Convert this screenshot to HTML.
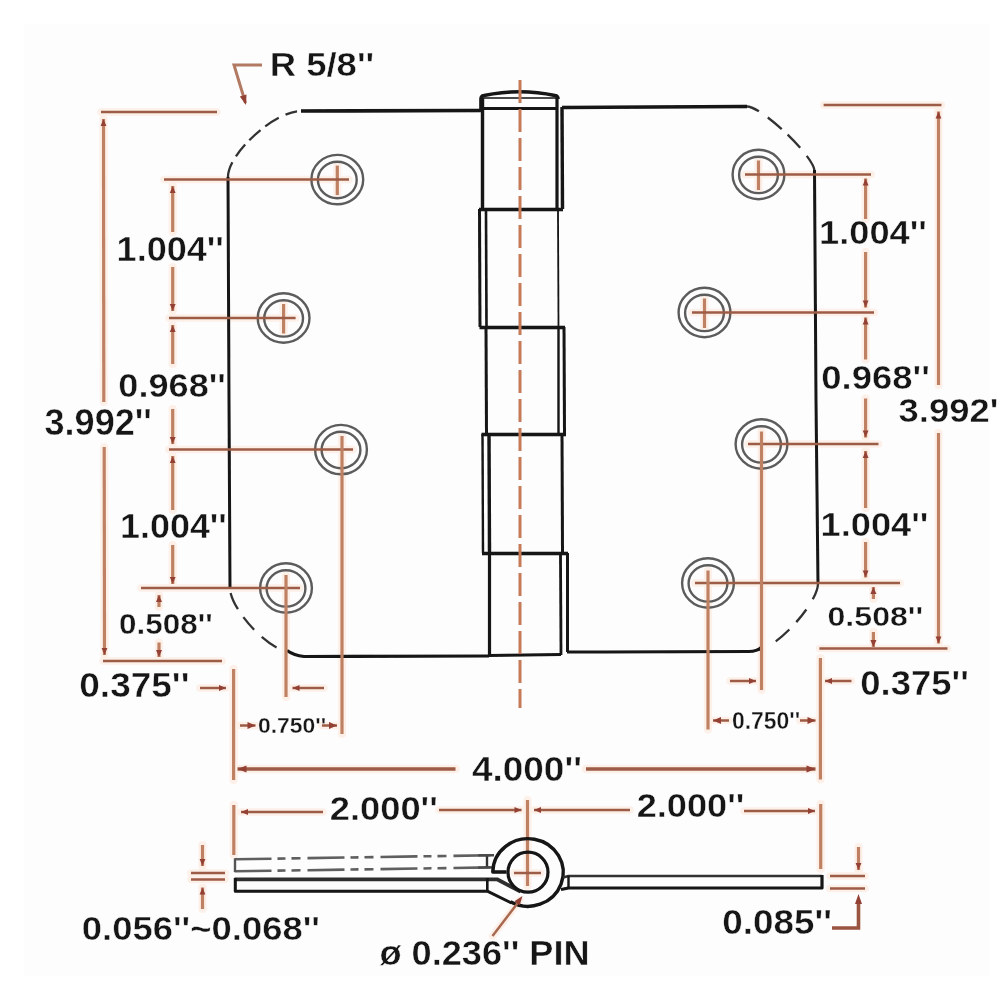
<!DOCTYPE html>
<html><head><meta charset="utf-8"><title>Hinge dimensions</title>
<style>
html,body{margin:0;padding:0;background:#fff;}
body{width:1000px;height:1000px;overflow:hidden;font-family:"Liberation Sans",sans-serif;}
svg{display:block;font-family:"Liberation Sans",sans-serif;}
</style></head><body>
<svg width="1000" height="1000" viewBox="0 0 1000 1000">
<rect width="1000" height="1000" fill="#ffffff"/>
<rect x="24" y="24" width="966" height="952" fill="#fdfdfd"/>
<defs><filter id="soft" x="-2%" y="-2%" width="104%" height="104%"><feGaussianBlur stdDeviation="0.55"/></filter></defs>
<g filter="url(#soft)">
<line x1="337.3" y1="165.6" x2="337.3" y2="195.1" stroke="#fdf0e9" stroke-width="8.2" stroke-linecap="round"/>
<line x1="283.6" y1="304" x2="283.6" y2="333.5" stroke="#fdf0e9" stroke-width="8.2" stroke-linecap="round"/>
<line x1="758.5" y1="160.5" x2="758.5" y2="190.0" stroke="#fdf0e9" stroke-width="8.2" stroke-linecap="round"/>
<line x1="704.5" y1="298.5" x2="704.5" y2="328.0" stroke="#fdf0e9" stroke-width="8.2" stroke-linecap="round"/>
<line x1="164" y1="179.5" x2="349" y2="179.5" stroke="#fdf0e9" stroke-width="7.5" stroke-linecap="round"/>
<line x1="169" y1="318" x2="295.6" y2="318" stroke="#fdf0e9" stroke-width="7.5" stroke-linecap="round"/>
<line x1="169" y1="449.5" x2="353" y2="449.5" stroke="#fdf0e9" stroke-width="7.5" stroke-linecap="round"/>
<line x1="141" y1="588" x2="300" y2="588" stroke="#fdf0e9" stroke-width="7.5" stroke-linecap="round"/>
<line x1="745" y1="174.5" x2="871" y2="174.5" stroke="#fdf0e9" stroke-width="7.5" stroke-linecap="round"/>
<line x1="692" y1="312.5" x2="874" y2="312.5" stroke="#fdf0e9" stroke-width="7.5" stroke-linecap="round"/>
<line x1="748" y1="444" x2="878.5" y2="444" stroke="#fdf0e9" stroke-width="7.5" stroke-linecap="round"/>
<line x1="695" y1="583" x2="900" y2="583" stroke="#fdf0e9" stroke-width="7.5" stroke-linecap="round"/>
<line x1="342" y1="436" x2="342" y2="734" stroke="#fdf0e9" stroke-width="8.2" stroke-linecap="round"/>
<line x1="286" y1="575" x2="286" y2="697" stroke="#fdf0e9" stroke-width="8.2" stroke-linecap="round"/>
<line x1="761.5" y1="431.5" x2="761.5" y2="690" stroke="#fdf0e9" stroke-width="8.2" stroke-linecap="round"/>
<line x1="708" y1="570.5" x2="708" y2="729.5" stroke="#fdf0e9" stroke-width="8.2" stroke-linecap="round"/>
<line x1="101" y1="112" x2="217" y2="112" stroke="#fdf0e9" stroke-width="7.5" stroke-linecap="round"/>
<line x1="103" y1="661" x2="222" y2="661" stroke="#fdf0e9" stroke-width="7.5" stroke-linecap="round"/>
<line x1="103.5" y1="119" x2="103.8" y2="402" stroke="#fdf0e9" stroke-width="8.2" stroke-linecap="round"/>
<line x1="104.5" y1="655" x2="104.2" y2="447" stroke="#fdf0e9" stroke-width="8.2" stroke-linecap="round"/>
<line x1="172.7" y1="186" x2="172.7" y2="232" stroke="#fdf0e9" stroke-width="8.2" stroke-linecap="round"/>
<line x1="172.7" y1="311" x2="172.7" y2="267" stroke="#fdf0e9" stroke-width="8.2" stroke-linecap="round"/>
<line x1="172.7" y1="325" x2="172.7" y2="364" stroke="#fdf0e9" stroke-width="8.2" stroke-linecap="round"/>
<line x1="172.7" y1="444" x2="172.7" y2="409" stroke="#fdf0e9" stroke-width="8.2" stroke-linecap="round"/>
<line x1="172.7" y1="456" x2="172.7" y2="510" stroke="#fdf0e9" stroke-width="8.2" stroke-linecap="round"/>
<line x1="172.7" y1="584" x2="172.7" y2="545" stroke="#fdf0e9" stroke-width="8.2" stroke-linecap="round"/>
<line x1="159" y1="595" x2="159" y2="607" stroke="#fdf0e9" stroke-width="8.2" stroke-linecap="round"/>
<line x1="159" y1="657" x2="159" y2="642.5" stroke="#fdf0e9" stroke-width="8.2" stroke-linecap="round"/>
<line x1="226" y1="688" x2="200" y2="688" stroke="#fdf0e9" stroke-width="7.5" stroke-linecap="round"/>
<line x1="233.6" y1="669" x2="233.6" y2="780" stroke="#fdf0e9" stroke-width="8.2" stroke-linecap="round"/>
<line x1="292.5" y1="688" x2="324" y2="688" stroke="#fdf0e9" stroke-width="7.5" stroke-linecap="round"/>
<line x1="255.5" y1="725.5" x2="240" y2="725.5" stroke="#fdf0e9" stroke-width="7.5" stroke-linecap="round"/>
<line x1="337" y1="725.5" x2="322" y2="725.5" stroke="#fdf0e9" stroke-width="7.5" stroke-linecap="round"/>
<line x1="237.5" y1="769" x2="455.5" y2="769" stroke="#fdf0e9" stroke-width="8.6" stroke-linecap="round"/>
<line x1="815.5" y1="769" x2="586" y2="769" stroke="#fdf0e9" stroke-width="8.6" stroke-linecap="round"/>
<line x1="820.4" y1="658" x2="820.4" y2="779.5" stroke="#fdf0e9" stroke-width="8.2" stroke-linecap="round"/>
<line x1="756" y1="681" x2="730" y2="681" stroke="#fdf0e9" stroke-width="7.5" stroke-linecap="round"/>
<line x1="825" y1="681" x2="851.5" y2="681" stroke="#fdf0e9" stroke-width="7.5" stroke-linecap="round"/>
<line x1="713" y1="720.5" x2="729" y2="720.5" stroke="#fdf0e9" stroke-width="7.5" stroke-linecap="round"/>
<line x1="815.5" y1="720.5" x2="800" y2="720.5" stroke="#fdf0e9" stroke-width="7.5" stroke-linecap="round"/>
<line x1="823.6" y1="105" x2="941.5" y2="105" stroke="#fdf0e9" stroke-width="7.5" stroke-linecap="round"/>
<line x1="819.4" y1="648.5" x2="947.5" y2="648.5" stroke="#fdf0e9" stroke-width="7.5" stroke-linecap="round"/>
<line x1="938.5" y1="111.6" x2="938.5" y2="385" stroke="#fdf0e9" stroke-width="8.2" stroke-linecap="round"/>
<line x1="938.5" y1="643.4" x2="938.5" y2="433" stroke="#fdf0e9" stroke-width="8.2" stroke-linecap="round"/>
<line x1="865.6" y1="178.5" x2="865.6" y2="219" stroke="#fdf0e9" stroke-width="8.2" stroke-linecap="round"/>
<line x1="865.6" y1="307.5" x2="865.6" y2="252" stroke="#fdf0e9" stroke-width="8.2" stroke-linecap="round"/>
<line x1="865.6" y1="317.5" x2="865.6" y2="359.5" stroke="#fdf0e9" stroke-width="8.2" stroke-linecap="round"/>
<line x1="865.6" y1="437.5" x2="865.6" y2="398.5" stroke="#fdf0e9" stroke-width="8.2" stroke-linecap="round"/>
<line x1="865.6" y1="451" x2="865.6" y2="508" stroke="#fdf0e9" stroke-width="8.2" stroke-linecap="round"/>
<line x1="865.6" y1="577.4" x2="865.6" y2="542" stroke="#fdf0e9" stroke-width="8.2" stroke-linecap="round"/>
<line x1="873.4" y1="587" x2="873.4" y2="599" stroke="#fdf0e9" stroke-width="8.2" stroke-linecap="round"/>
<line x1="873.4" y1="647" x2="873.4" y2="632" stroke="#fdf0e9" stroke-width="8.2" stroke-linecap="round"/>
<line x1="233.8" y1="805" x2="233.8" y2="855" stroke="#fdf0e9" stroke-width="8.2" stroke-linecap="round"/>
<line x1="241" y1="812" x2="323" y2="812" stroke="#fdf0e9" stroke-width="7.5" stroke-linecap="round"/>
<line x1="521.5" y1="810" x2="439" y2="810" stroke="#fdf0e9" stroke-width="7.5" stroke-linecap="round"/>
<line x1="534" y1="810" x2="630" y2="810" stroke="#fdf0e9" stroke-width="7.5" stroke-linecap="round"/>
<line x1="815" y1="811" x2="744" y2="811" stroke="#fdf0e9" stroke-width="7.5" stroke-linecap="round"/>
<line x1="820.7" y1="804" x2="820.7" y2="869" stroke="#fdf0e9" stroke-width="8.2" stroke-linecap="round"/>
<line x1="527.5" y1="800" x2="527.5" y2="886" stroke="#fdf0e9" stroke-width="8.2" stroke-linecap="round"/>
<line x1="514" y1="873" x2="541" y2="873" stroke="#fdf0e9" stroke-width="7.5" stroke-linecap="round"/>
<line x1="191" y1="873" x2="225" y2="873" stroke="#fdf0e9" stroke-width="7.5" stroke-linecap="round"/>
<line x1="191" y1="879.5" x2="225" y2="879.5" stroke="#fdf0e9" stroke-width="7.5" stroke-linecap="round"/>
<line x1="202.5" y1="866" x2="202.5" y2="845" stroke="#fdf0e9" stroke-width="8.2" stroke-linecap="round"/>
<line x1="202.5" y1="887.5" x2="202.5" y2="909" stroke="#fdf0e9" stroke-width="8.2" stroke-linecap="round"/>
<line x1="830" y1="876" x2="865" y2="876" stroke="#fdf0e9" stroke-width="7.5" stroke-linecap="round"/>
<line x1="830" y1="888.5" x2="865" y2="888.5" stroke="#fdf0e9" stroke-width="7.5" stroke-linecap="round"/>
<line x1="858.5" y1="870" x2="858.5" y2="847" stroke="#fdf0e9" stroke-width="8.2" stroke-linecap="round"/>
<line x1="492.5" y1="936" x2="520" y2="900" stroke="#fdf0e9" stroke-width="7.5" stroke-linecap="round"/>
<path d="M301,111 L481,110.5" fill="none" stroke="#141414" stroke-width="3.6" />
<path d="M228,177 L229,400 L230,588" fill="none" stroke="#141414" stroke-width="3" />
<path d="M301,111 C274.7,111.0 228.0,153.2 228,177" fill="none" stroke="#333" stroke-width="2.3" stroke-dasharray="0 4 12 7.5 16 6 15 6 15 7 20"/>
<path d="M230,588 C230.0,608.8 268.9,651.0 288,651" fill="none" stroke="#333" stroke-width="2.3" stroke-dasharray="0 5 18 9.5 16.5 10.5 18 30"/>
<path d="M287,650.5 Q294,655.5 304,656.5 L489,656" fill="none" stroke="#141414" stroke-width="3.2" />
<path d="M562,107.5 L747,106.5" fill="none" stroke="#141414" stroke-width="3.4" />
<path d="M747,106.5 C761.9,106.5 814.5,156.8 814.5,171" fill="none" stroke="#333" stroke-width="2.3" stroke-dasharray="13 11 18 8 18 10.5 30"/>
<path d="M814.5,170 L816,400 L818,584" fill="none" stroke="#141414" stroke-width="3" />
<path d="M818,583.5 C818.0,603.5 775.3,650.0 757,650" fill="none" stroke="#333" stroke-width="2.3" stroke-dasharray="17 12 16 10 18 15 30"/>
<path d="M761.5,647 Q757,651.5 749,651.5 L567,652" fill="none" stroke="#141414" stroke-width="3" />
<path d="M481,110 L481,99 Q481,96 484,95.5 Q520,88 555,95.5 Q558,96 558,99" fill="none" stroke="#141414" stroke-width="3.6" />
<path d="M483,98 L557,98" fill="none" stroke="#141414" stroke-width="1.6" />
<path d="M482,108.5 L558,108.5" fill="none" stroke="#141414" stroke-width="3" />
<path d="M482.5,98 L482.5,209" fill="none" stroke="#141414" stroke-width="3.4" />
<path d="M557,98 L557,209" fill="none" stroke="#141414" stroke-width="3.2" />
<path d="M562,107 L562.5,209" fill="none" stroke="#141414" stroke-width="3.4" />
<path d="M479,209.5 L563,209.5" fill="none" stroke="#141414" stroke-width="3.4" />
<path d="M479.5,209 L480,327" fill="none" stroke="#141414" stroke-width="3" />
<path d="M486,209 L486.5,327" fill="none" stroke="#141414" stroke-width="2.6" />
<path d="M558,209 L558.5,327" fill="none" stroke="#141414" stroke-width="1.8" />
<path d="M479.5,327.5 L565,327.5" fill="none" stroke="#141414" stroke-width="3.4" />
<path d="M486,327 L486.5,434" fill="none" stroke="#141414" stroke-width="3" />
<path d="M558.5,327 L558.5,434" fill="none" stroke="#141414" stroke-width="2.4" />
<path d="M564,327 L564.5,434" fill="none" stroke="#141414" stroke-width="3" />
<path d="M481.5,434.5 L566,434.5" fill="none" stroke="#141414" stroke-width="3.4" />
<path d="M482.5,434 L483,553" fill="none" stroke="#141414" stroke-width="2.4" />
<path d="M489,434 L489.5,553" fill="none" stroke="#141414" stroke-width="3.4" />
<path d="M562,434 L562.5,553" fill="none" stroke="#141414" stroke-width="3" />
<path d="M482,553.5 L568,553.5" fill="none" stroke="#141414" stroke-width="3.4" />
<path d="M489.5,553 L489.5,656" fill="none" stroke="#141414" stroke-width="3.2" />
<path d="M560.5,553 L561,655" fill="none" stroke="#141414" stroke-width="2.8" />
<path d="M567.5,553 L567.5,652" fill="none" stroke="#141414" stroke-width="3" />
<path d="M489,655.5 L561,654.5" fill="none" stroke="#141414" stroke-width="3.2" />
<ellipse cx="337.3" cy="179.6" rx="25.9" ry="24.7" fill="none" stroke="#5c5c5c" stroke-width="2.4"/>
<ellipse cx="337.3" cy="180.0" rx="19.4" ry="18.2" fill="none" stroke="#5c5c5c" stroke-width="2.4"/>
<ellipse cx="283.6" cy="318" rx="25.9" ry="24.7" fill="none" stroke="#5c5c5c" stroke-width="2.4"/>
<ellipse cx="283.6" cy="318.4" rx="19.4" ry="18.2" fill="none" stroke="#5c5c5c" stroke-width="2.4"/>
<ellipse cx="341" cy="449.6" rx="25.9" ry="24.7" fill="none" stroke="#5c5c5c" stroke-width="2.4"/>
<ellipse cx="341" cy="450.0" rx="19.4" ry="18.2" fill="none" stroke="#5c5c5c" stroke-width="2.4"/>
<ellipse cx="286" cy="588" rx="25.9" ry="24.7" fill="none" stroke="#5c5c5c" stroke-width="2.4"/>
<ellipse cx="286" cy="588.4" rx="19.4" ry="18.2" fill="none" stroke="#5c5c5c" stroke-width="2.4"/>
<ellipse cx="758.5" cy="174.5" rx="25.9" ry="24.7" fill="none" stroke="#5c5c5c" stroke-width="2.4"/>
<ellipse cx="758.5" cy="174.9" rx="19.4" ry="18.2" fill="none" stroke="#5c5c5c" stroke-width="2.4"/>
<ellipse cx="704.5" cy="312.5" rx="25.9" ry="24.7" fill="none" stroke="#5c5c5c" stroke-width="2.4"/>
<ellipse cx="704.5" cy="312.9" rx="19.4" ry="18.2" fill="none" stroke="#5c5c5c" stroke-width="2.4"/>
<ellipse cx="761.5" cy="444" rx="25.9" ry="24.7" fill="none" stroke="#5c5c5c" stroke-width="2.4"/>
<ellipse cx="761.5" cy="444.4" rx="19.4" ry="18.2" fill="none" stroke="#5c5c5c" stroke-width="2.4"/>
<ellipse cx="708" cy="583" rx="25.9" ry="24.7" fill="none" stroke="#5c5c5c" stroke-width="2.4"/>
<ellipse cx="708" cy="583.4" rx="19.4" ry="18.2" fill="none" stroke="#5c5c5c" stroke-width="2.4"/>
<line x1="520" y1="80" x2="520" y2="708" stroke="#c67a58" stroke-width="3" stroke-dasharray="23 6"/>
<line x1="337.3" y1="165.6" x2="337.3" y2="195.1" stroke="#bf8163" stroke-width="3.2" />
<line x1="283.6" y1="304" x2="283.6" y2="333.5" stroke="#bf8163" stroke-width="3.2" />
<line x1="758.5" y1="160.5" x2="758.5" y2="190.0" stroke="#bf8163" stroke-width="3.2" />
<line x1="704.5" y1="298.5" x2="704.5" y2="328.0" stroke="#bf8163" stroke-width="3.2" />
<line x1="164" y1="179.5" x2="349" y2="179.5" stroke="#9c5c44" stroke-width="2.5" />
<line x1="169" y1="318" x2="295.6" y2="318" stroke="#9c5c44" stroke-width="2.5" />
<line x1="169" y1="449.5" x2="353" y2="449.5" stroke="#9c5c44" stroke-width="2.5" />
<line x1="141" y1="588" x2="300" y2="588" stroke="#9c5c44" stroke-width="2.5" />
<line x1="745" y1="174.5" x2="871" y2="174.5" stroke="#9c5c44" stroke-width="2.5" />
<line x1="692" y1="312.5" x2="874" y2="312.5" stroke="#9c5c44" stroke-width="2.5" />
<line x1="748" y1="444" x2="878.5" y2="444" stroke="#9c5c44" stroke-width="2.5" />
<line x1="695" y1="583" x2="900" y2="583" stroke="#9c5c44" stroke-width="2.5" />
<line x1="342" y1="436" x2="342" y2="734" stroke="#bf8163" stroke-width="3.2" />
<line x1="286" y1="575" x2="286" y2="697" stroke="#bf8163" stroke-width="3.2" />
<line x1="761.5" y1="431.5" x2="761.5" y2="690" stroke="#bf8163" stroke-width="3.2" />
<line x1="708" y1="570.5" x2="708" y2="729.5" stroke="#bf8163" stroke-width="3.2" />
<line x1="101" y1="112" x2="217" y2="112" stroke="#9c5c44" stroke-width="2.5" />
<line x1="103" y1="661" x2="222" y2="661" stroke="#9c5c44" stroke-width="2.5" />
<line x1="103.5" y1="119" x2="103.8" y2="402" stroke="#bf8163" stroke-width="3.2" />
<polygon points="103.5,119.0 106.4,126.0 100.6,126.0" fill="#934034"/>
<line x1="104.5" y1="655" x2="104.2" y2="447" stroke="#bf8163" stroke-width="3.2" />
<polygon points="104.5,655.0 101.6,648.0 107.4,648.0" fill="#934034"/>
<line x1="172.7" y1="186" x2="172.7" y2="232" stroke="#bf8163" stroke-width="3.2" />
<polygon points="172.7,186.0 175.6,193.0 169.8,193.0" fill="#934034"/>
<line x1="172.7" y1="311" x2="172.7" y2="267" stroke="#bf8163" stroke-width="3.2" />
<polygon points="172.7,311.0 169.8,304.0 175.6,304.0" fill="#934034"/>
<line x1="172.7" y1="325" x2="172.7" y2="364" stroke="#bf8163" stroke-width="3.2" />
<polygon points="172.7,325.0 175.6,332.0 169.8,332.0" fill="#934034"/>
<line x1="172.7" y1="444" x2="172.7" y2="409" stroke="#bf8163" stroke-width="3.2" />
<polygon points="172.7,444.0 169.8,437.0 175.6,437.0" fill="#934034"/>
<line x1="172.7" y1="456" x2="172.7" y2="510" stroke="#bf8163" stroke-width="3.2" />
<polygon points="172.7,456.0 175.6,463.0 169.8,463.0" fill="#934034"/>
<line x1="172.7" y1="584" x2="172.7" y2="545" stroke="#bf8163" stroke-width="3.2" />
<polygon points="172.7,584.0 169.8,577.0 175.6,577.0" fill="#934034"/>
<line x1="159" y1="595" x2="159" y2="607" stroke="#bf8163" stroke-width="3.2" />
<polygon points="159.0,595.0 162.0,602.0 156.0,602.0" fill="#934034"/>
<line x1="159" y1="657" x2="159" y2="642.5" stroke="#bf8163" stroke-width="3.2" />
<polygon points="159.0,657.0 156.0,650.0 162.0,650.0" fill="#934034"/>
<line x1="226" y1="688" x2="200" y2="688" stroke="#9c5c44" stroke-width="2.5" />
<polygon points="226.0,688.0 219.0,690.9 219.0,685.1" fill="#934034"/>
<line x1="233.6" y1="669" x2="233.6" y2="780" stroke="#bf8163" stroke-width="3.2" />
<line x1="292.5" y1="688" x2="324" y2="688" stroke="#9c5c44" stroke-width="2.5" />
<polygon points="292.5,688.0 299.5,685.1 299.5,690.9" fill="#934034"/>
<line x1="255.5" y1="725.5" x2="240" y2="725.5" stroke="#9c5c44" stroke-width="2.5" />
<polygon points="255.5,725.5 247.5,729.0 247.5,722.0" fill="#934034"/>
<line x1="337" y1="725.5" x2="322" y2="725.5" stroke="#9c5c44" stroke-width="2.5" />
<polygon points="337.0,725.5 329.0,729.0 329.0,722.0" fill="#934034"/>
<line x1="237.5" y1="769" x2="455.5" y2="769" stroke="#9c5c44" stroke-width="3.6" />
<polygon points="237.5,769.0 246.5,765.5 246.5,772.5" fill="#934034"/>
<line x1="815.5" y1="769" x2="586" y2="769" stroke="#9c5c44" stroke-width="3.6" />
<polygon points="815.5,769.0 806.5,772.5 806.5,765.5" fill="#934034"/>
<line x1="820.4" y1="658" x2="820.4" y2="779.5" stroke="#bf8163" stroke-width="3.2" />
<line x1="756" y1="681" x2="730" y2="681" stroke="#9c5c44" stroke-width="2.5" />
<polygon points="756.0,681.0 749.0,683.9 749.0,678.1" fill="#934034"/>
<line x1="825" y1="681" x2="851.5" y2="681" stroke="#9c5c44" stroke-width="2.5" />
<polygon points="825.0,681.0 832.0,678.1 832.0,683.9" fill="#934034"/>
<line x1="713" y1="720.5" x2="729" y2="720.5" stroke="#9c5c44" stroke-width="2.5" />
<polygon points="713.0,720.5 721.0,717.0 721.0,724.0" fill="#934034"/>
<line x1="815.5" y1="720.5" x2="800" y2="720.5" stroke="#9c5c44" stroke-width="2.5" />
<polygon points="815.5,720.5 807.5,724.0 807.5,717.0" fill="#934034"/>
<line x1="823.6" y1="105" x2="941.5" y2="105" stroke="#9c5c44" stroke-width="2.5" />
<line x1="819.4" y1="648.5" x2="947.5" y2="648.5" stroke="#9c5c44" stroke-width="2.5" />
<line x1="938.5" y1="111.6" x2="938.5" y2="385" stroke="#bf8163" stroke-width="3.2" />
<polygon points="938.5,111.6 941.4,118.6 935.6,118.6" fill="#934034"/>
<line x1="938.5" y1="643.4" x2="938.5" y2="433" stroke="#bf8163" stroke-width="3.2" />
<polygon points="938.5,643.4 935.6,636.4 941.4,636.4" fill="#934034"/>
<line x1="865.6" y1="178.5" x2="865.6" y2="219" stroke="#bf8163" stroke-width="3.2" />
<polygon points="865.6,178.5 868.5,185.5 862.7,185.5" fill="#934034"/>
<line x1="865.6" y1="307.5" x2="865.6" y2="252" stroke="#bf8163" stroke-width="3.2" />
<polygon points="865.6,307.5 862.7,300.5 868.5,300.5" fill="#934034"/>
<line x1="865.6" y1="317.5" x2="865.6" y2="359.5" stroke="#bf8163" stroke-width="3.2" />
<polygon points="865.6,317.5 868.5,324.5 862.7,324.5" fill="#934034"/>
<line x1="865.6" y1="437.5" x2="865.6" y2="398.5" stroke="#bf8163" stroke-width="3.2" />
<polygon points="865.6,437.5 862.7,430.5 868.5,430.5" fill="#934034"/>
<line x1="865.6" y1="451" x2="865.6" y2="508" stroke="#bf8163" stroke-width="3.2" />
<polygon points="865.6,451.0 868.5,458.0 862.7,458.0" fill="#934034"/>
<line x1="865.6" y1="577.4" x2="865.6" y2="542" stroke="#bf8163" stroke-width="3.2" />
<polygon points="865.6,577.4 862.7,570.4 868.5,570.4" fill="#934034"/>
<line x1="873.4" y1="587" x2="873.4" y2="599" stroke="#bf8163" stroke-width="3.2" />
<polygon points="873.4,587.0 876.4,594.0 870.4,594.0" fill="#934034"/>
<line x1="873.4" y1="647" x2="873.4" y2="632" stroke="#bf8163" stroke-width="3.2" />
<polygon points="873.4,647.0 870.4,640.0 876.4,640.0" fill="#934034"/>
<path d="M262,65 L234,65 L245.5,103" fill="none" stroke="#b27a64" stroke-width="3" />
<polygon points="246.0,105.0 239.8,96.4 246.5,94.4" fill="#934034"/>
<line x1="233.8" y1="805" x2="233.8" y2="855" stroke="#bf8163" stroke-width="3.2" />
<line x1="241" y1="812" x2="323" y2="812" stroke="#9c5c44" stroke-width="2.5" />
<polygon points="241.0,812.0 248.0,809.1 248.0,814.9" fill="#934034"/>
<line x1="521.5" y1="810" x2="439" y2="810" stroke="#9c5c44" stroke-width="2.5" />
<polygon points="521.5,810.0 514.5,812.9 514.5,807.1" fill="#934034"/>
<line x1="534" y1="810" x2="630" y2="810" stroke="#9c5c44" stroke-width="2.5" />
<polygon points="534.0,810.0 541.0,807.1 541.0,812.9" fill="#934034"/>
<line x1="815" y1="811" x2="744" y2="811" stroke="#9c5c44" stroke-width="2.5" />
<polygon points="815.0,811.0 808.0,813.9 808.0,808.1" fill="#934034"/>
<line x1="820.7" y1="804" x2="820.7" y2="869" stroke="#bf8163" stroke-width="3.2" />
<line x1="527.5" y1="800" x2="527.5" y2="886" stroke="#bf8163" stroke-width="3.2" />
<line x1="514" y1="873" x2="541" y2="873" stroke="#9c5c44" stroke-width="2.5" />
<path d="M234.5,859.3 L493,855.2" fill="none" stroke="#5e5e5e" stroke-width="2.6" stroke-dasharray="37 6 8 6 9 7"/>
<path d="M234.5,871.3 L492,867.4" fill="none" stroke="#5e5e5e" stroke-width="2.6" stroke-dasharray="37 6 8 6 9 7"/>
<path d="M235,858.5 L235,872" fill="none" stroke="#555" stroke-width="2.4" />
<path d="M487,855 L487,868" fill="none" stroke="#333" stroke-width="2.4" />
<path d="M478,855.4 L494,855.2" fill="none" stroke="#4a4a4a" stroke-width="2.4" />
<path d="M478,867.6 L492.5,867.4" fill="none" stroke="#4a4a4a" stroke-width="2.4" />
<path d="M234.5,879.3 L497,879.3 L520.5,891.6" fill="none" stroke="#2e2e2e" stroke-width="3.8" stroke-linejoin="round"/>
<path d="M235.3,878 L235.3,891.2 L487.3,891.2 L511.5,903" fill="none" stroke="#141414" stroke-width="3" stroke-linejoin="round"/>
<path d="M487.3,878 L487.3,891" fill="none" stroke="#141414" stroke-width="2.6" />
<path d="M506.5,872 L492.8,872 A35.2,33.8 0 1 1 510.5,901.8" fill="none" stroke="#141414" stroke-width="3.4" stroke-linejoin="round"/>
<circle cx="528" cy="872.2" r="20" fill="none" stroke="#141414" stroke-width="3.2"/>
<path d="M563,877.5 L568.5,876 L822,876" fill="none" stroke="#303030" stroke-width="2.4" stroke-linejoin="round"/>
<path d="M822,875 L822,888 L568.5,888 L561,889.5" fill="none" stroke="#141414" stroke-width="3.2" stroke-linejoin="round"/>
<path d="M568.5,876 L568.5,888" fill="none" stroke="#141414" stroke-width="2.4" />
<line x1="191" y1="873" x2="225" y2="873" stroke="#9c5c44" stroke-width="2.5" />
<line x1="191" y1="879.5" x2="225" y2="879.5" stroke="#9c5c44" stroke-width="2.5" />
<line x1="202.5" y1="866" x2="202.5" y2="845" stroke="#bf8163" stroke-width="3.2" />
<polygon points="202.5,866.0 199.6,859.0 205.4,859.0" fill="#934034"/>
<line x1="202.5" y1="887.5" x2="202.5" y2="909" stroke="#bf8163" stroke-width="3.2" />
<polygon points="202.5,887.5 205.4,894.5 199.6,894.5" fill="#934034"/>
<line x1="830" y1="876" x2="865" y2="876" stroke="#9c5c44" stroke-width="2.5" />
<line x1="830" y1="888.5" x2="865" y2="888.5" stroke="#9c5c44" stroke-width="2.5" />
<line x1="858.5" y1="870" x2="858.5" y2="847" stroke="#bf8163" stroke-width="3.2" />
<polygon points="858.5,870.0 855.6,863.0 861.4,863.0" fill="#934034"/>
<path d="M858.5,900 L858.5,928 L832,928" fill="none" stroke="#9a5540" stroke-width="3.6" />
<polygon points="858.5,894.0 862.0,904.0 855.0,904.0" fill="#934034"/>
<line x1="492.5" y1="936" x2="520" y2="900" stroke="#a8694f" stroke-width="2.5" />
<polygon points="522.5,896.0 519.7,905.2 514.5,901.2" fill="#934034"/>
<text transform="translate(269.72,76.22) scale(0.3648,0.3350)" font-size="100" font-weight="bold" fill="#151515" stroke="#fdfdfd" stroke-width="1.29">R 5/8''</text>
<text transform="translate(116.61,261.23) scale(0.3605,0.3564)" font-size="100" font-weight="bold" fill="#151515" stroke="#fdfdfd" stroke-width="1.26">1.004''</text>
<text transform="translate(118.33,397.23) scale(0.3614,0.3350)" font-size="100" font-weight="bold" fill="#151515" stroke="#fdfdfd" stroke-width="1.29">0.968''</text>
<text transform="translate(44.55,435.23) scale(0.3607,0.3636)" font-size="100" font-weight="bold" fill="#151515" stroke="#fdfdfd" stroke-width="1.24">3.992''</text>
<text transform="translate(120.12,537.73) scale(0.3587,0.3421)" font-size="100" font-weight="bold" fill="#151515" stroke="#fdfdfd" stroke-width="1.28">1.004''</text>
<text transform="translate(119.04,634.20) scale(0.3145,0.2861)" font-size="100" font-weight="bold" fill="#151515" stroke="#fdfdfd" stroke-width="1.34">0.508''</text>
<text transform="translate(79.29,697.23) scale(0.3701,0.3421)" font-size="100" font-weight="bold" fill="#151515" stroke="#fdfdfd" stroke-width="1.26">0.375''</text>
<text transform="translate(257.93,733.15) scale(0.2294,0.2205)" font-size="100" font-weight="bold" fill="#151515" stroke="#fdfdfd" stroke-width="1.38">0.750''</text>
<text transform="translate(472.04,780.73) scale(0.3692,0.3493)" font-size="100" font-weight="bold" fill="#151515" stroke="#fdfdfd" stroke-width="1.25">4.000''</text>
<text transform="translate(329.68,820.23) scale(0.3636,0.3350)" font-size="100" font-weight="bold" fill="#151515" stroke="#fdfdfd" stroke-width="1.29">2.000''</text>
<text transform="translate(636.69,817.23) scale(0.3619,0.3350)" font-size="100" font-weight="bold" fill="#151515" stroke="#fdfdfd" stroke-width="1.29">2.000''</text>
<text transform="translate(81.82,939.62) scale(0.3643,0.3334)" font-size="100" font-weight="bold" fill="#151515" stroke="#fdfdfd" stroke-width="1.29">0.056''~0.068''</text>
<text transform="translate(379.41,965.23) scale(0.3620,0.3421)" font-size="100" font-weight="bold" fill="#151515" stroke="#fdfdfd" stroke-width="1.28">ø 0.236'' PIN</text>
<text transform="translate(722.30,934.23) scale(0.3683,0.3493)" font-size="100" font-weight="bold" fill="#151515" stroke="#fdfdfd" stroke-width="1.25">0.085''</text>
<text transform="translate(819.10,243.82) scale(0.3622,0.3286)" font-size="100" font-weight="bold" fill="#151515" stroke="#fdfdfd" stroke-width="1.30">1.004''</text>
<text transform="translate(821.32,388.83) scale(0.3649,0.3286)" font-size="100" font-weight="bold" fill="#151515" stroke="#fdfdfd" stroke-width="1.30">0.968''</text>
<text transform="translate(898.55,421.83) scale(0.3641,0.3286)" font-size="100" font-weight="bold" fill="#151515" stroke="#fdfdfd" stroke-width="1.30">3.992''</text>
<text transform="translate(820.60,535.62) scale(0.3622,0.3334)" font-size="100" font-weight="bold" fill="#151515" stroke="#fdfdfd" stroke-width="1.29">1.004''</text>
<text transform="translate(827.52,625.60) scale(0.3211,0.2845)" font-size="100" font-weight="bold" fill="#151515" stroke="#fdfdfd" stroke-width="1.32">0.508''</text>
<text transform="translate(860.32,694.62) scale(0.3649,0.3464)" font-size="100" font-weight="bold" fill="#151515" stroke="#fdfdfd" stroke-width="1.27">0.375''</text>
<text transform="translate(731.92,728.57) scale(0.2295,0.2369)" font-size="100" font-weight="bold" fill="#151515" stroke="#fdfdfd" stroke-width="1.43">0.750''</text>
</g>
</svg>
</body></html>
